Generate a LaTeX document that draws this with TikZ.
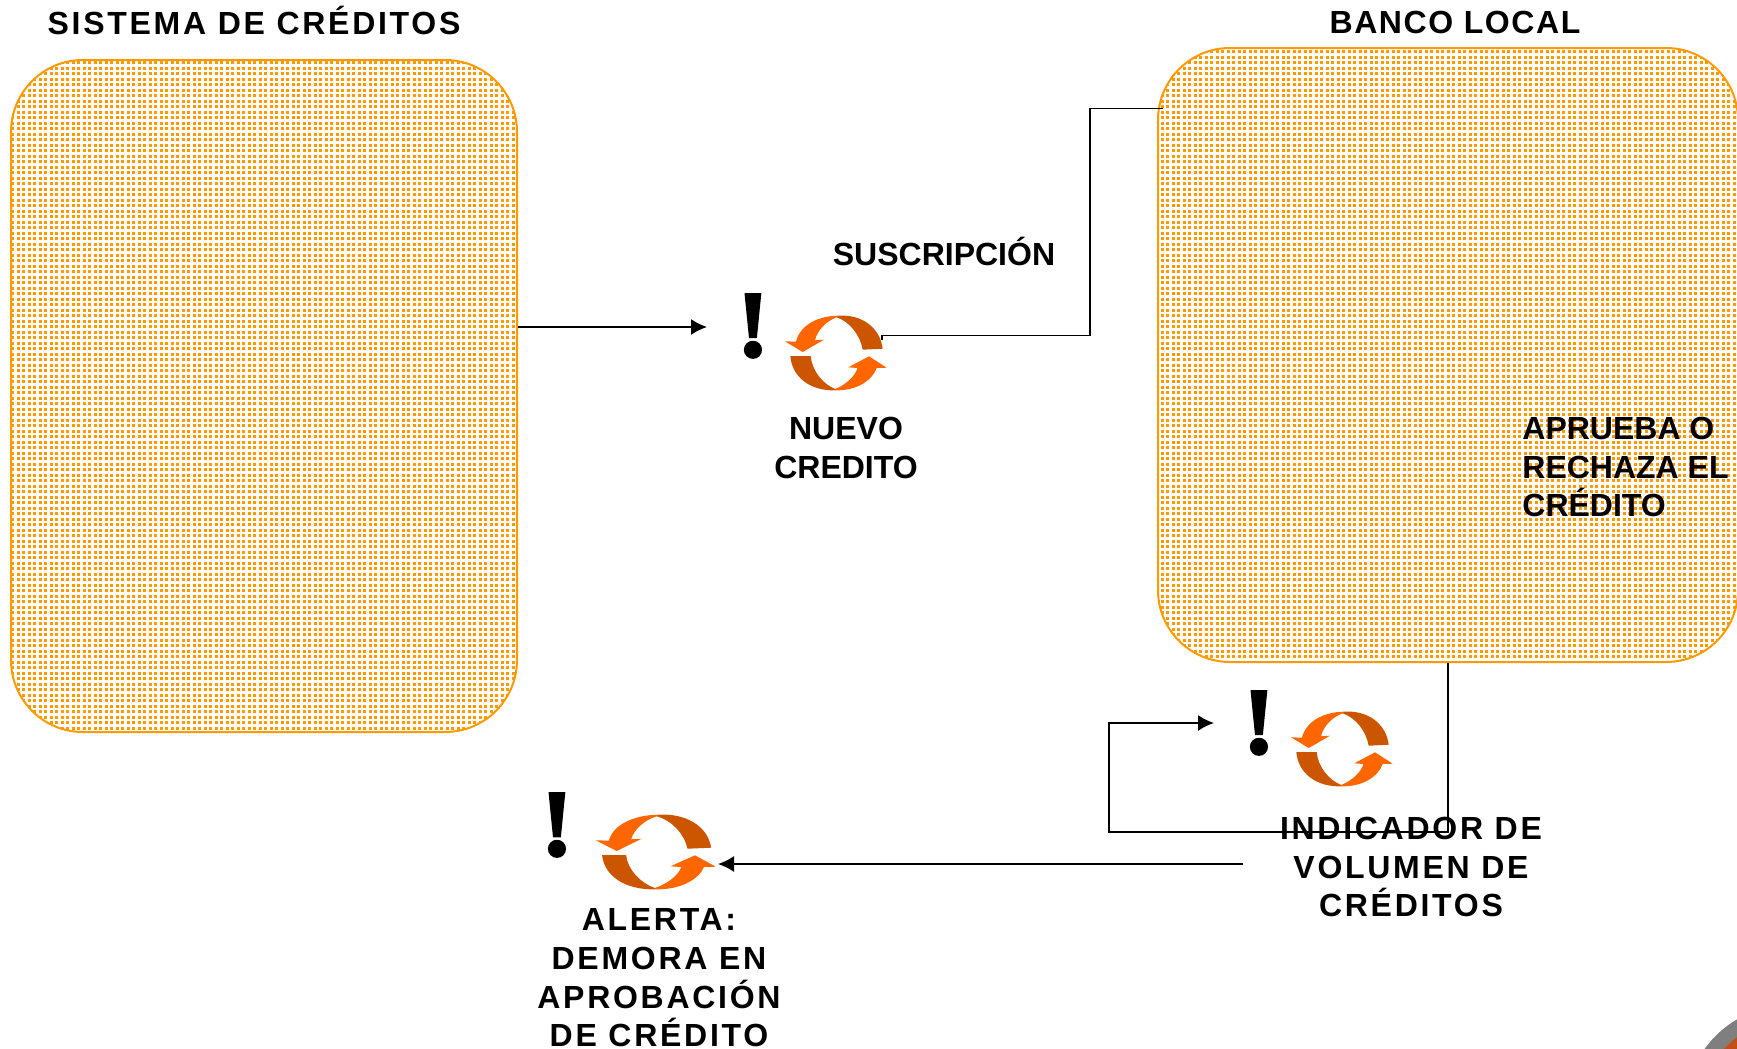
\documentclass[tikz,border=0pt]{standalone}
\usepackage{fontspec}
\usepackage{xcolor}
\usetikzlibrary{arrows.meta,patterns}
\setmainfont{Liberation Sans}
\newfontfamily\anchafont[LetterSpace=8.5]{Liberation Sans}
\newfontfamily\mediafont[LetterSpace=5]{Liberation Sans}
\newfontfamily\markfont[BoldFeatures={FakeBold=3}]{Liberation Serif}
\definecolor{boxorange}{HTML}{FF9900}
\definecolor{lightarrow}{HTML}{FF6600}
\definecolor{darkarrow}{HTML}{CC5500}
\definecolor{cornergray}{HTML}{7F7F7F}
\definecolor{cornerred}{HTML}{C0501A}
\pgfdeclarepatternformonly{boxdots}{\pgfqpoint{0pt}{0pt}}{\pgfqpoint{1.8pt}{1.8pt}}{\pgfqpoint{2.75pt}{2.75pt}}{%
  \pgfpathrectangle{\pgfqpoint{0pt}{0pt}}{\pgfqpoint{1.6pt}{1.6pt}}\pgfusepath{fill}}
\tikzset{
  areabox/.style={draw=boxorange, line width=1pt, pattern=boxdots, pattern color=boxorange, rounded corners=36pt, inner sep=0pt},
  link/.style={draw=black, line width=0.8pt},
  linkarrow/.style={link, -{Latex[length=8pt,width=8pt]}},
  label/.style={font=\bfseries\fontsize{16}{19.3}\selectfont, align=center, inner sep=0pt},
  widelabel/.style={font=\anchafont\bfseries\fontsize{16}{19.3}\selectfont, align=center, inner sep=0pt},
  medlabel/.style={font=\mediafont\bfseries\fontsize{16}{19.3}\selectfont, align=center, inner sep=0pt},
  alertmark/.style={font=\markfont\bfseries\fontsize{47}{47}\selectfont, inner sep=0pt},
  cycleslot/.style={inner sep=0pt, minimum width=48pt, minimum height=38pt},
  cycleicon/.pic={
    \fill[lightarrow] (-33.3,-1) -- (-51,-11.7) -- (-40,-11.3) .. controls (-36,-28) and (-18,-37) .. (2,-37.3) -- (0.7,-35.7) .. controls (-10,-32) and (-19,-22) .. (-21,-12.7) -- (-12,-13.3) -- cycle;
    \fill[darkarrow] (0.7,-35.7) -- (2,-37.3) .. controls (25,-39) and (44,-26) .. (46.7,-4.3) -- (26.7,-3.3) .. controls (24,-18) and (14,-31) .. (0.7,-35.7) -- cycle;
    \fill[darkarrow] (-45.7,3) -- (-25.3,3) .. controls (-24,18) and (-13,31) .. (-1,36) -- (-1,37.3) .. controls (-26,38) and (-44,24) .. (-45.7,3) -- cycle;
    \fill[lightarrow] (-1,36) .. controls (10,32) and (20,22) .. (21.3,15) -- (12.3,14.3) -- (33,3.3) -- (50.7,14.7) -- (40.7,15) .. controls (36,28) and (20,38) .. (-1,37.3) -- cycle;
  }
}
\begin{document}
\begin{tikzpicture}[x=0.5pt, y=-0.5pt]
  \useasboundingbox (0,0) rectangle (1737,1049);

  \begin{scope}
    \clip (0,0) rectangle (1737,1049);
    \fill[cornergray] (1790,1110) circle (105);
    \fill[cornerred] (1790,1110) circle (90);
  \end{scope}

  \node[areabox, minimum width=253pt, minimum height=336pt] (sistema) at (264,396) {};
  \node[areabox, minimum width=290pt, minimum height=307pt] (banco) at (1448,355) {};

  \node[cycleslot] (cicloA) at (836,353) {};
  \node[cycleslot] (cicloB) at (1342,749) {};
  \node[cycleslot] (cicloC) at (656,852) {};
  \pic at (cicloA) {cycleicon};
  \pic at (cicloB) {cycleicon};
  \pic[xscale=1.18] at (cicloC) {cycleicon};

  \node[alertmark] (markA) at (753,326) {!};
  \node[alertmark] (markB) at (1259,723) {!};
  \node[alertmark] (markC) at (557,825) {!};

  \coordinate (tipA) at (707,327);
  \coordinate (startB) at (882,340);
  \coordinate (elbowB) at (1090,108.6);
  \coordinate (endB) at (1163,108.6);
  \coordinate (elbowC) at (1109,723);
  \coordinate (tipC) at (1214,723);
  \coordinate (startD) at (1243,864);
  \coordinate (tipD) at (718,864);

  \draw[linkarrow] (tipA -| sistema.east) -- (tipA);
  \draw[link] (startB) -- ++(0,-4.5) -| (elbowB) -- (endB);
  \draw[linkarrow] (banco.south -| 1448,0) -- (1448,832) -| (elbowC) -- (tipC);
  \draw[linkarrow] (startD) -- (tipD);

  \node[widelabel] (tituloSistema) at (254,20) {SISTEMA DE CRÉDITOS};
  \node[medlabel] (tituloBanco) at (1455,22) {BANCO LOCAL};
  \node[label] (suscripcion) at (944,251) {SUSCRIPCIÓN};
  \node[label] (nuevo) at (846,448) {NUEVO\\CREDITO};
  \node[label, align=left, anchor=west] (aprueba) at (1522,467) {APRUEBA O\\RECHAZA EL\\CRÉDITO};
  \node[widelabel] (indicador) at (1411,867) {INDICADOR DE\\VOLUMEN DE\\CRÉDITOS};
  \node[widelabel] (alerta) at (659,978) {ALERTA:\\DEMORA EN\\APROBACIÓN\\DE CRÉDITO};
\end{tikzpicture}
\end{document}
